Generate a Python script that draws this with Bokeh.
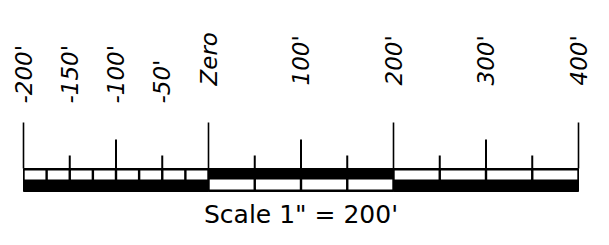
import math
from bokeh.plotting import figure
from bokeh.models import Range1d
from bokeh.core.properties import value
from bokeh.embed import file_html
from bokeh.resources import INLINE

# ---- data (feet) ----
major_ticks = [-200, 0, 200, 400]
medium_ticks = [-100, 100, 300]
minor_ticks = [-150, -50, 50, 150, 250, 350]
label_values = [-200, -150, -100, -50, 0, 100, 200, 300, 400]
label_texts = ["-200'", "-150'", "-100'", "-50'", "Zero", "100'", "200'", "300'", "400'"]
left_divisions = [-200, -175, -150, -125, -100, -75, -50, -25, 0]
middle_divisions = [0, 50, 100, 150, 200]
right_divisions = [200, 250, 300, 350, 400]
scale_caption = "Scale 1\" = 200'"

# ---- layout (data y == picture pixel y) ----
W, H = 593, 229
k = 555.0 / 600.0            # px per foot
x0 = -200 - 23 / k
x1 = x0 + W / k

p = figure(width=W, height=H, output_backend="svg", toolbar_location=None,
           x_range=Range1d(x0, x1), y_range=Range1d(H, 0),
           min_border=0, min_border_left=0, min_border_right=0,
           min_border_top=0, min_border_bottom=0)
p.axis.visible = False
p.grid.visible = False
p.outline_line_color = None
p.background_fill_color = "white"
p.border_fill_color = "white"

T, M, B = 168, 179, 191
inset = 1.2 / k
edge = 2.0

def section(div, white_top, white_bottom):
    p.quad(left=[div[0]], right=[div[-1]], top=[T], bottom=[B],
           fill_color="black", line_color="black", line_width=1)
    lefts = [a + inset for a in div[:-1]]
    rights = [b - inset for b in div[1:]]
    p.quad(left=lefts, right=rights, top=[white_top] * len(lefts),
           bottom=[white_bottom] * len(lefts),
           fill_color="white", line_color=None)

section(left_divisions, T + edge, M)
section(middle_divisions, M, B - edge)
section(right_divisions, T + edge, M)

# ticks
p.segment(x0=major_ticks, x1=major_ticks, y0=[122] * len(major_ticks),
          y1=[T] * len(major_ticks), line_color="black", line_width=1.6)
p.segment(x0=medium_ticks, x1=medium_ticks, y0=[139] * len(medium_ticks),
          y1=[T] * len(medium_ticks), line_color="black", line_width=2)
p.segment(x0=minor_ticks, x1=minor_ticks, y0=[155] * len(minor_ticks),
          y1=[T] * len(minor_ticks), line_color="black", line_width=2)

# rotated labels
ys = [103 if v < 0 else 85 for v in label_values]
p.text(x=label_values, y=ys, text=label_texts, angle=math.pi / 2,
       text_align="left", text_baseline="middle",
       text_font=value("DejaVu Sans"), text_font_style="italic",
       text_font_size="23px", text_color="black")

# caption
cx = (min(label_values) + max(label_values)) / 2
p.text(x=[cx], y=[214], text=[scale_caption], text_align="center",
       text_baseline="middle", text_font=value("DejaVu Sans"),
       text_font_size="25px", text_color="black")

open("out.html", "w").write(file_html(p, INLINE))
